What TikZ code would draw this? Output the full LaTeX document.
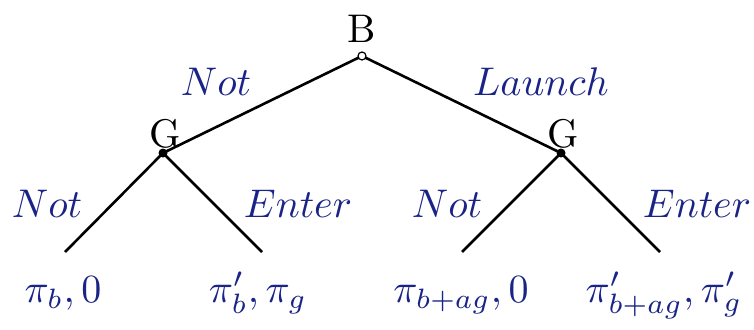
\documentclass[tikz,border=0pt]{standalone}
\usepackage{amsmath}
\usepackage{tikz}
\usetikzlibrary{positioning}
\definecolor{moveblue}{RGB}{26,36,135}

\begin{document}
\begin{tikzpicture}[
    x=1pt, y=-1pt,
    font=\fontsize{10}{12}\selectfont,
    chance/.style={circle, draw=black, fill=white, line width=1.2pt, inner sep=0pt, minimum size=8pt},
    decision/.style={circle, fill=black, inner sep=0pt, minimum size=9pt},
    player/.style={anchor=base, text=black, scale=4, transform shape},
    move/.style={anchor=base, text=moveblue, scale=4, transform shape},
    payoff/.style={anchor=base, text=moveblue, scale=4, transform shape},
    branch/.style={line width=2.6pt}
]
\useasboundingbox (0,0) rectangle (754,329);

% tree nodes
\coordinate (lnn) at (65,252);
\coordinate (lne) at (262,252);
\coordinate (lln) at (462,252);
\coordinate (lle) at (660,252);

\draw [branch] (163,153) coordinate (gnot) -- (lnn);
\draw [branch] (gnot) -- (lne);
\draw [branch] (561,153) coordinate (glaunch) -- (lln);
\draw [branch] (glaunch) -- (lle);
\draw [branch] (362,56) coordinate (broot) -- (gnot);
\draw [branch] (broot) -- (glaunch);

\node (b) [chance] at (broot) {};
\node (g1) [decision] at (gnot) {};
\node (g2) [decision] at (glaunch) {};

% players
\node (bname) [player] at (362,43) {B};
\node (g1name) [player] at (165,147) {G};
\node (g2name) [player] at (563,147) {G};

% moves
\node (mnot) [move] at (216,95) {$Not$};
\node (mlaunch) [move] at (541,95) {$Launch$};
\node (mgnot1) [move] at (47,217) {$Not$};
\node (mgenter1) [move] at (298,217) {$Enter$};
\node (mgnot2) [move] at (447,217) {$Not$};
\node (mgenter2) [move] at (697,217) {$Enter$};

% payoffs
\node (pnn) [payoff] at (63,302) {$\pi_b, 0$};
\node (pne) [payoff] at (258,302) {$\pi'_b, \pi_g$};
\node (pln) [payoff] at (461,302) {$\pi_{b+ag}, 0$};
\node (ple) [payoff] at (664,302) {$\pi'_{b+ag}, \pi'_g$};

\end{tikzpicture}
\end{document}
